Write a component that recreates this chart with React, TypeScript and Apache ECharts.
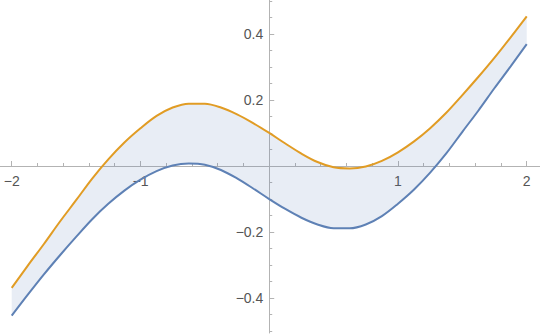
import React, { useEffect, useRef } from "react";
import * as echarts from "echarts";

const xValues = [
  -2, -1.875, -1.75, -1.625, -1.5, -1.375, -1.25, -1.125, -1, -0.875, -0.75, -0.625, -0.5, -0.375, -0.25, -0.125,
  0, 0.125, 0.25, 0.375, 0.5, 0.625, 0.75, 0.875, 1, 1.125, 1.25, 1.375, 1.5, 1.625, 1.75, 1.875, 2,
];
const lowerCurve = [
  -0.453, -0.3895, -0.328, -0.27, -0.2145, -0.161, -0.1145, -0.0745, -0.0415, -0.0155, 0.0015, 0.0075, 0.004, -0.012, -0.0375, -0.068,
  -0.1, -0.13, -0.1565, -0.177, -0.1883, -0.1887, -0.177, -0.1515, -0.114, -0.071, -0.02, 0.038, 0.1035, 0.168, 0.236, 0.3015, 0.369,
];
const upperCurve = [
  -0.369, -0.3015, -0.236, -0.168, -0.1035, -0.038, 0.02, 0.071, 0.114, 0.1515, 0.177, 0.1887, 0.1883, 0.177, 0.1565, 0.13,
  0.1, 0.068, 0.0375, 0.012, -0.004, -0.0075, -0.0015, 0.0155, 0.0415, 0.0745, 0.1145, 0.161, 0.2145, 0.27, 0.328, 0.3895, 0.453,
];
const xTickValues = [-2, -1, 0, 1, 2];
const xLabelValues = [-2, -1, 1, 2];
const yTickValues = [-0.4, -0.2, 0, 0.2, 0.4];
const yLabelValues = [-0.4, -0.2, 0.2, 0.4];

const BLUE = "#5e81b5";
const ORANGE = "#e19c24";
const AXIS = "#b3b3b3";
const LABEL = "#555555";
const FONT = "'Liberation Sans', Arial, Helvetica, sans-serif";

const X_MIN = -2.091;
const X_MAX = 2.103;
const Y_MIN = -0.5053;
const Y_MAX = 0.5023;

function fmt(v: number, digits: number): string {
  if (Math.abs(v) < 1e-9) return "";
  const s = digits > 0 ? v.toFixed(digits) : String(Math.round(v));
  return s.replace("-", "\u2212");
}

export default function App() {
  const ref = useRef<HTMLDivElement>(null);
  useEffect(() => {
    document.body.style.margin = "0";
    if (!ref.current) return;
    const chart = echarts.init(ref.current, undefined, { renderer: "svg" });
    const lowerYX = xValues.map((x, i) => [lowerCurve[i], x]);
    const bandYX = xValues.map((x, i) => [upperCurve[i] - lowerCurve[i], x]);
    const lowerData = xValues.map((x, i) => [x, lowerCurve[i]]);
    const upperData = xValues.map((x, i) => [x, upperCurve[i]]);
    const labelStyle = { color: LABEL, fontSize: 14, fontFamily: FONT };
    const SMOOTH = 0.35;
    chart.setOption({
      animation: false,
      grid: { left: 0, right: 0, top: 0, bottom: 2, containLabel: false, outerBoundsMode: "none" },
      xAxis: [
        {
          type: "value",
          min: X_MIN,
          max: X_MAX,
          splitNumber: 5,
          axisLine: { show: true, onZero: true, lineStyle: { color: AXIS, width: 1 } },
          axisTick: { show: true, inside: true, length: 5, customValues: xTickValues, lineStyle: { color: AXIS, width: 1 } },
          minorTick: { show: true, splitNumber: 5, length: 3, lineStyle: { color: AXIS, width: 1 } },
          splitLine: { show: false },
          minorSplitLine: { show: false },
          axisLabel: { show: false },
        },
        {
          type: "value",
          position: "bottom",
          min: X_MIN,
          max: X_MAX,
          offset: -167,
          axisLine: { show: false, onZero: false },
          axisTick: { show: false },
          splitLine: { show: false },
          axisLabel: { ...labelStyle, margin: 8, customValues: xLabelValues, formatter: (v: number) => fmt(v, 0) },
        },
      ],
      yAxis: [
        {
          type: "value",
          min: Y_MIN,
          max: Y_MAX,
          splitNumber: 5,
          axisLine: { show: true, onZero: true, lineStyle: { color: AXIS, width: 1 } },
          axisTick: { show: true, inside: true, length: 5, customValues: yTickValues, lineStyle: { color: AXIS, width: 1 } },
          minorTick: { show: true, splitNumber: 4, length: 3, lineStyle: { color: AXIS, width: 1 } },
          splitLine: { show: false },
          minorSplitLine: { show: false },
          axisLabel: { show: false },
        },
        {
          type: "value",
          position: "left",
          min: Y_MIN,
          max: Y_MAX,
          offset: -269.3,
          axisLine: { show: false, onZero: false },
          axisTick: { show: false },
          splitLine: { show: false },
          axisLabel: { ...labelStyle, margin: 6, customValues: yLabelValues, formatter: (v: number) => fmt(v, 1) },
        },
      ],
      series: [
        {
          name: "base",
          type: "line",
          data: lowerYX,
          encode: { x: 1, y: 0 },
          stack: "band",
          stackStrategy: "all",
          smooth: SMOOTH,
          symbol: "none",
          lineStyle: { opacity: 0 },
          silent: true,
        },
        {
          name: "band",
          type: "line",
          data: bandYX,
          encode: { x: 1, y: 0 },
          stack: "band",
          stackStrategy: "all",
          smooth: SMOOTH,
          symbol: "none",
          lineStyle: { opacity: 0 },
          areaStyle: { color: "rgba(94,129,181,0.2)" },
          silent: true,
        },
        {
          name: "lower",
          type: "line",
          data: lowerData,
          smooth: SMOOTH,
          symbol: "none",
          lineStyle: { color: BLUE, width: 2 },
        },
        {
          name: "upper",
          type: "line",
          data: upperData,
          smooth: SMOOTH,
          symbol: "none",
          lineStyle: { color: ORANGE, width: 2 },
        },
      ],
    });
    return () => chart.dispose();
  }, []);
  return <div ref={ref} style={{ width: 540, height: 335 }} />;
}
